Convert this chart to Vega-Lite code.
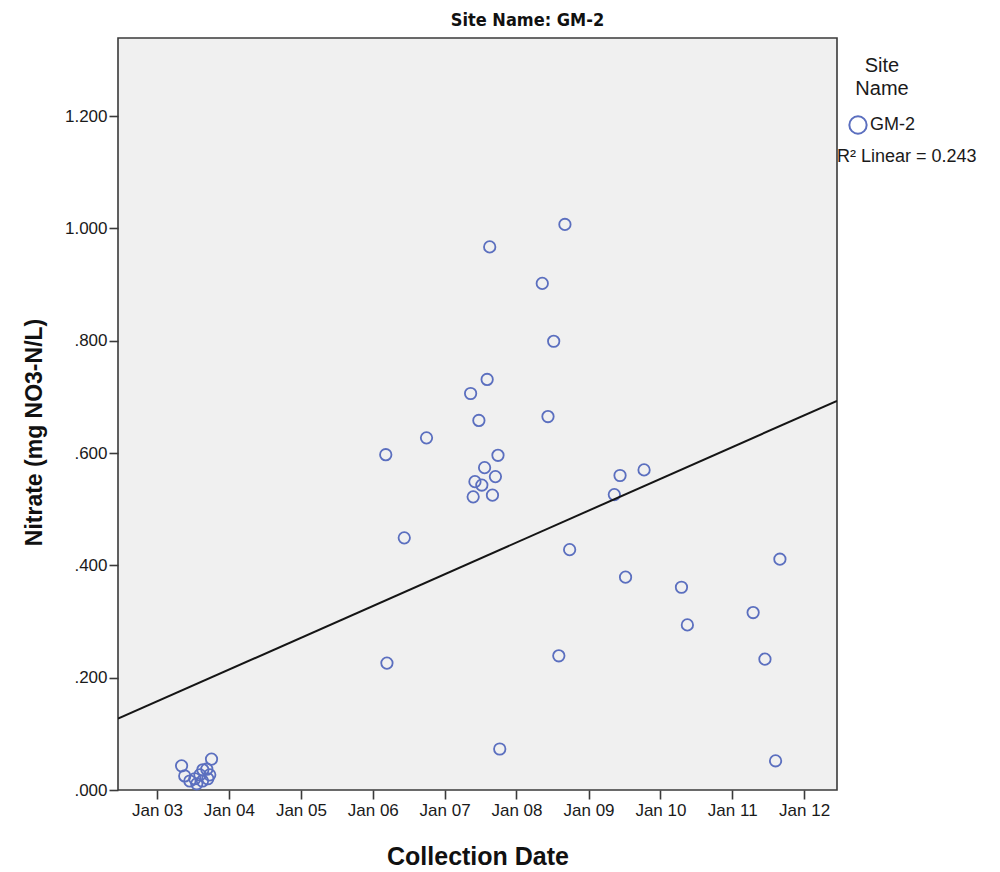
{
  "$schema": "https://vega.github.io/schema/vega-lite/v6.json",
  "autosize": {"type": "none"},
  "width": 719,
  "height": 752,
  "padding": {"left": 118, "top": 38, "right": 163, "bottom": 82},
  "background": "white",
  "title": {
    "text": "Site Name: GM-2",
    "font": "DejaVu Sans Condensed, Liberation Sans",
    "fontWeight": "bold",
    "fontSize": 18,
    "color": "#111",
    "anchor": "middle",
    "frame": "group",
    "offset": 8,
    "dx": 50
  },
  "config": {
    "font": "Liberation Sans",
    "view": {"fill": "#f0f0f0", "stroke": "#3a3a3a", "strokeWidth": 1.6},
    "axis": {
      "grid": false,
      "domain": false,
      "tickColor": "#3a3a3a",
      "tickWidth": 1.6,
      "tickSize": 9,
      "labelFont": "Liberation Sans",
      "labelFontSize": 17,
      "labelColor": "#1a1a1a",
      "titleFont": "Liberation Sans",
      "titleFontWeight": "bold",
      "titleColor": "#111"
    }
  },
  "data": {
    "values": [
      {"date": "2003-05-06", "nitrate": 0.043, "site": "GM-2"},
      {"date": "2003-10-05", "nitrate": 0.055, "site": "GM-2"},
      {"date": "2003-05-22", "nitrate": 0.025, "site": "GM-2"},
      {"date": "2003-06-17", "nitrate": 0.016, "site": "GM-2"},
      {"date": "2003-07-12", "nitrate": 0.020, "site": "GM-2"},
      {"date": "2003-08-07", "nitrate": 0.027, "site": "GM-2"},
      {"date": "2003-08-22", "nitrate": 0.036, "site": "GM-2"},
      {"date": "2003-09-11", "nitrate": 0.037, "site": "GM-2"},
      {"date": "2003-09-26", "nitrate": 0.027, "site": "GM-2"},
      {"date": "2003-08-20", "nitrate": 0.016, "site": "GM-2"},
      {"date": "2003-07-22", "nitrate": 0.011, "site": "GM-2"},
      {"date": "2003-09-16", "nitrate": 0.020, "site": "GM-2"},
      {"date": "2008-09-03", "nitrate": 1.007, "site": "GM-2"},
      {"date": "2007-08-18", "nitrate": 0.967, "site": "GM-2"},
      {"date": "2008-05-11", "nitrate": 0.902, "site": "GM-2"},
      {"date": "2008-07-08", "nitrate": 0.799, "site": "GM-2"},
      {"date": "2007-08-05", "nitrate": 0.731, "site": "GM-2"},
      {"date": "2007-05-13", "nitrate": 0.706, "site": "GM-2"},
      {"date": "2007-06-24", "nitrate": 0.658, "site": "GM-2"},
      {"date": "2008-06-09", "nitrate": 0.665, "site": "GM-2"},
      {"date": "2006-10-01", "nitrate": 0.627, "site": "GM-2"},
      {"date": "2006-03-08", "nitrate": 0.597, "site": "GM-2"},
      {"date": "2007-09-29", "nitrate": 0.596, "site": "GM-2"},
      {"date": "2007-07-23", "nitrate": 0.574, "site": "GM-2"},
      {"date": "2007-09-16", "nitrate": 0.558, "site": "GM-2"},
      {"date": "2007-06-04", "nitrate": 0.549, "site": "GM-2"},
      {"date": "2007-07-09", "nitrate": 0.543, "site": "GM-2"},
      {"date": "2007-05-26", "nitrate": 0.522, "site": "GM-2"},
      {"date": "2007-09-01", "nitrate": 0.525, "site": "GM-2"},
      {"date": "2006-06-10", "nitrate": 0.449, "site": "GM-2"},
      {"date": "2006-03-14", "nitrate": 0.226, "site": "GM-2"},
      {"date": "2007-10-08", "nitrate": 0.073, "site": "GM-2"},
      {"date": "2009-06-10", "nitrate": 0.560, "site": "GM-2"},
      {"date": "2009-10-10", "nitrate": 0.570, "site": "GM-2"},
      {"date": "2009-05-12", "nitrate": 0.526, "site": "GM-2"},
      {"date": "2008-09-27", "nitrate": 0.428, "site": "GM-2"},
      {"date": "2008-08-03", "nitrate": 0.239, "site": "GM-2"},
      {"date": "2009-07-08", "nitrate": 0.379, "site": "GM-2"},
      {"date": "2010-04-18", "nitrate": 0.361, "site": "GM-2"},
      {"date": "2010-05-18", "nitrate": 0.294, "site": "GM-2"},
      {"date": "2011-08-31", "nitrate": 0.411, "site": "GM-2"},
      {"date": "2011-04-17", "nitrate": 0.316, "site": "GM-2"},
      {"date": "2011-06-16", "nitrate": 0.233, "site": "GM-2"},
      {"date": "2011-08-09", "nitrate": 0.052, "site": "GM-2"}
    ]
  },
  "layer": [
    {
      "mark": {"type": "point", "filled": false, "strokeWidth": 1.8, "size": 130, "opacity": 1},
      "encoding": {
        "x": {
          "field": "date",
          "type": "temporal",
          "scale": {"domain": [{"year": 2002, "month": 6, "date": 17}, {"year": 2012, "month": 6, "date": 16}], "nice": false},
          "axis": {
            "title": "Collection Date",
            "titleFontSize": 25,
            "format": "%b %y",
            "tickCount": {"interval": "year", "step": 1},
            "labelPadding": 3,
            "titlePadding": 26
          }
        },
        "y": {
          "field": "nitrate",
          "type": "quantitative",
          "scale": {"domain": [0, 1.339], "nice": false},
          "axis": {
            "title": "Nitrate (mg NO3-N/L)",
            "titleFontSize": 23,
            "titleY": 394,
            "values": [0, 0.2, 0.4, 0.6, 0.8, 1.0, 1.2],
            "labelExpr": "datum.value < 1 ? replace(format(datum.value, '.3f'), '0.', '.') : format(datum.value, '.3f')",
            "labelPadding": 2,
            "titlePadding": 18
          }
        },
        "color": {
          "field": "site",
          "type": "nominal",
          "scale": {"range": ["#5b6fbf"]},
          "legend": {
            "title": ["Site", "Name"],
            "orient": "none",
            "legendX": 730,
            "legendY": 18,
            "titleAnchor": "middle",
            "titleAlign": "center",
            "titleFont": "Liberation Sans",
            "titleFontSize": 20,
            "titleFontWeight": "normal",
            "titleColor": "#1a1a1a",
            "titleLineHeight": 23,
            "titlePadding": 16,
            "symbolType": "circle",
            "symbolSize": 300,
            "symbolStrokeWidth": 2,
            "symbolFillColor": "transparent",
            "labelFont": "Liberation Sans",
            "labelFontSize": 18,
            "labelColor": "#1a1a1a",
            "labelOffset": 2
          }
        }
      }
    },
    {
      "data": {
        "values": [
          {"date": "2002-06-17", "nitrate": 0.127, "fit": "R² Linear = 0.243"},
          {"date": "2012-06-16", "nitrate": 0.693, "fit": "R² Linear = 0.243"}
        ]
      },
      "mark": {"type": "line", "strokeWidth": 2, "clip": true},
      "encoding": {
        "x": {"field": "date", "type": "temporal"},
        "y": {"field": "nitrate", "type": "quantitative"},
        "stroke": {
          "field": "fit",
          "type": "nominal",
          "scale": {"range": ["#151515"]},
          "legend": {
            "title": null,
            "orient": "none",
            "legendX": 701,
            "legendY": 110,
            "symbolType": "stroke",
            "symbolSize": 0,
            "symbolOpacity": 0,
            "symbolStrokeWidth": 0,
            "labelFont": "Liberation Sans",
            "labelFontSize": 18,
            "labelColor": "#1a1a1a",
            "labelOffset": 0
          }
        }
      }
    }
  ]
}
